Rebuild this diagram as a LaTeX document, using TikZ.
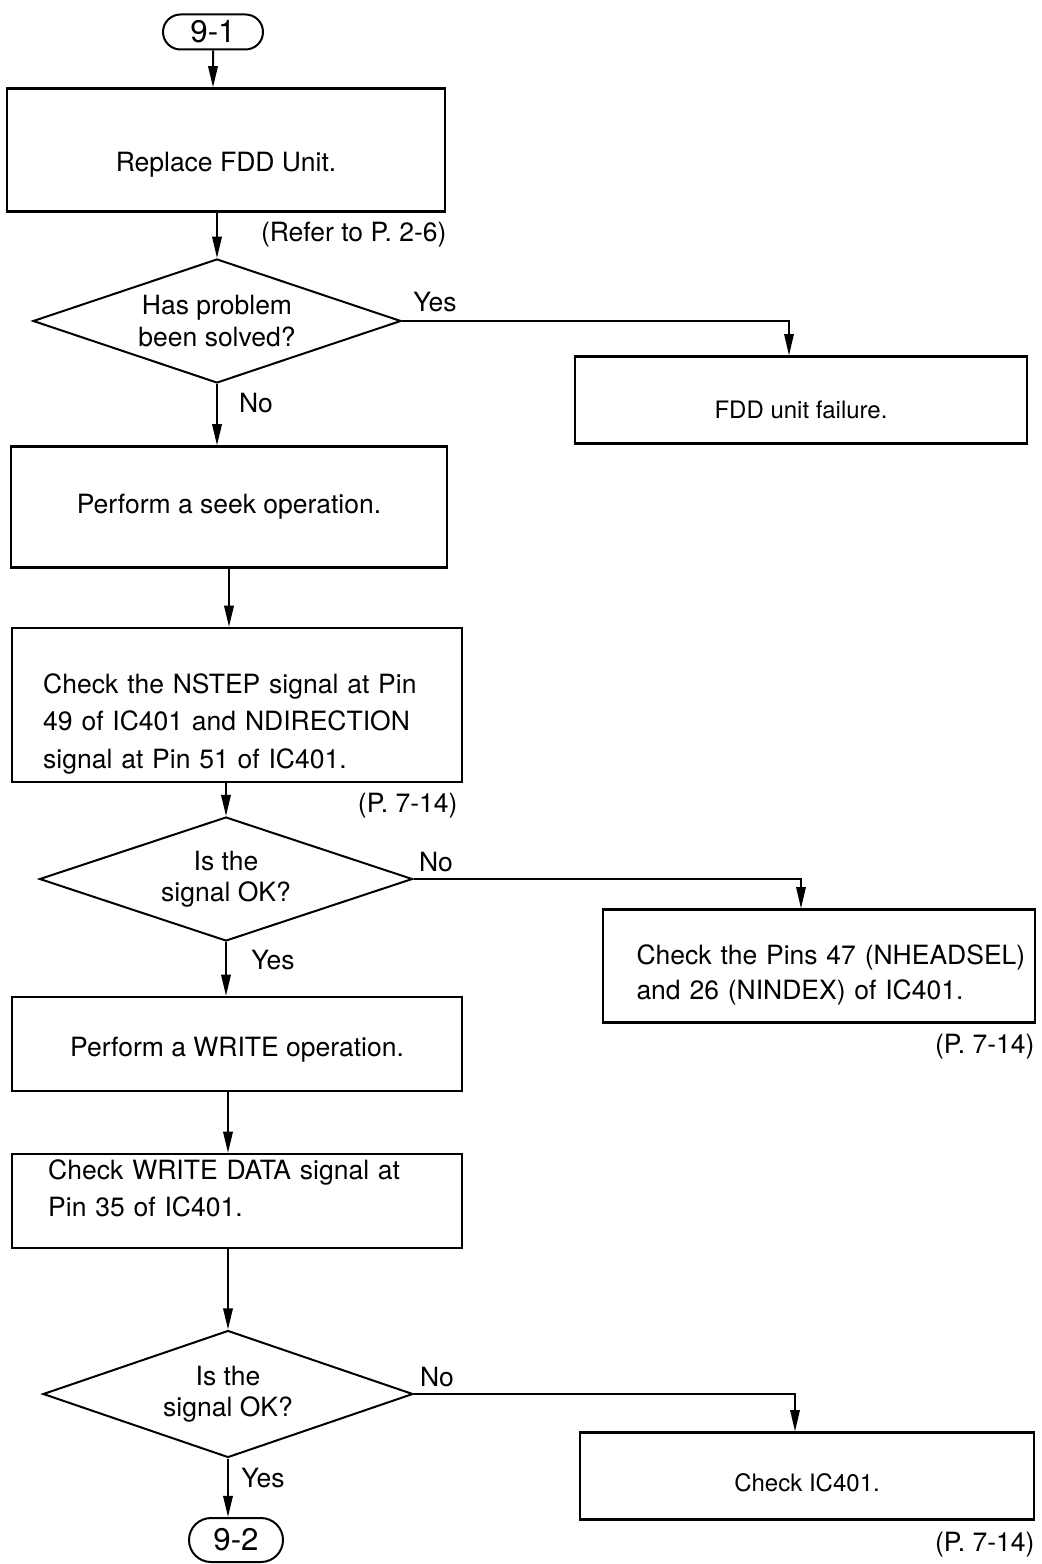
\documentclass[tikz,border=0pt]{standalone}
\usepackage{fontspec}
\setmainfont{TeX Gyre Heros}
\usetikzlibrary{shapes.geometric,shapes.misc,arrows.meta}

\begin{document}
\begin{tikzpicture}[x=0.4pt,y=-0.4pt,
 box/.style={draw,line width=0.9pt,minimum width=180pt,minimum height=37.6pt,inner sep=0pt,font=\fontsize{10.6}{15}\selectfont},
 leftbox/.style={box,align=left},
 smallbox/.style={box,font=\fontsize{9.6}{12}\selectfont},
 test/.style={draw,diamond,aspect=3,line width=0.8pt,inner sep=0pt,align=center,font=\fontsize{10.6}{12.6}\selectfont},
 term/.style={draw,rounded rectangle,line width=0.8pt,minimum width=40pt,minimum height=14pt,inner sep=0pt,font=\fontsize{12.5}{14}\selectfont},
 lbl/.style={inner sep=0pt,font=\fontsize{10.6}{12}\selectfont},
 note/.style={lbl,anchor=east},
 flow/.style={line width=0.8pt,-{Triangle[length=8.5pt,width=3.8pt]}},
 branch/.style={flow,line width=0.6pt}]
 \useasboundingbox (0,0) rectangle (1041,1564);
 % left column
 \node[term] (t1) at (213,32) {9-1};
 \node[box,minimum width=175.2pt,minimum height=49.2pt,text height=19.7pt] (replace) at (226,150) {Replace FDD Unit.};
 \node[note] (ref1) at (447,235) {(Refer to P. 2-6)};
 \node[test,minimum width=147.2pt,minimum height=49.6pt] (solved) at (217,321) {Has problem\\been solved?};
 \node[lbl] (yes1) at (435,302) {Yes};
 \node[lbl] (no1) at (256,403) {No};
 \node[box,minimum width=174.4pt,minimum height=48.4pt] (seek) at (229,507) {Perform a seek operation.};
 \node[leftbox,text width=155pt,minimum height=61.6pt,text height=22.9pt] (nstep) at (237,705) {Check the NSTEP signal at Pin\\49 of IC401 and NDIRECTION\\signal at Pin 51 of IC401.};
 \node[note] (ref2) at (458,806) {(P. 7-14)};
 \node[test,minimum width=149.2pt,minimum height=49.6pt] (sig1) at (226,879) {Is the\\signal OK?};
 \node[lbl] (no2) at (436,862) {No};
 \node[lbl] (yes2) at (273,960) {Yes};
 \node[box,text height=12.5pt] (write) at (237,1044) {Perform a WRITE operation.};
 \node[leftbox,text width=151pt,text depth=25.4pt] (data) at (237,1201) {Check WRITE DATA signal at\\Pin 35 of IC401.};
 \node[test,minimum width=148pt,minimum height=50.8pt] (sig2) at (228,1394) {Is the\\signal OK?};
 \node[lbl] (no3) at (437,1377) {No};
 \node[lbl] (yes3) at (263,1478) {Yes};
 \node[term,minimum width=37.6pt,minimum height=17.6pt] (t2) at (236,1540) {9-2};
 % right column
 \node[smallbox,minimum width=180.8pt,minimum height=34.8pt,text height=15pt] (failure) at (801,400) {FDD unit failure.};
 \node[leftbox,text width=146pt,minimum width=172.8pt,minimum height=45.2pt,text height=14.9pt,font=\fontsize{10.6}{14}\selectfont] (pins) at (819,966) {\mbox{Check the Pins 47 (NHEADSEL)}\\and 26 (NINDEX) of IC401.};
 \node[note] (ref3) at (1035,1047) {(P. 7-14)};
 \node[smallbox,minimum width=181.6pt,minimum height=34.8pt,text height=12.6pt] (ic) at (807,1476) {Check IC401.};
 \node[note] (ref4) at (1035,1545) {(P. 7-14)};
 % connectors
 \draw[flow] (t1) -- (t1 |- replace.north);
 \draw[flow] (solved |- replace.south) -- (solved.north);
 \draw[flow] (solved.south) -- (solved.south |- seek.north);
 \draw[flow] (seek.south) -- (seek.south |- nstep.north);
 \draw[flow] (sig1 |- nstep.south) -- (sig1.north);
 \draw[flow] (sig1.south) -- (sig1.south |- write.north);
 \draw[flow] (sig2 |- write.south) -- (sig2 |- data.north);
 \draw[flow] (sig2 |- data.south) -- (sig2.north);
 \draw[flow] (sig2.south) -- (sig2.south |- t2.north);
 \draw[branch] (solved.east) -| ([xshift=-4.8pt]failure.north);
 \draw[branch] (sig1.east) -| ([xshift=-7.2pt]pins.north);
 \draw[branch] (sig2.east) -| ([xshift=-4.8pt]ic.north);
\end{tikzpicture}
\end{document}
